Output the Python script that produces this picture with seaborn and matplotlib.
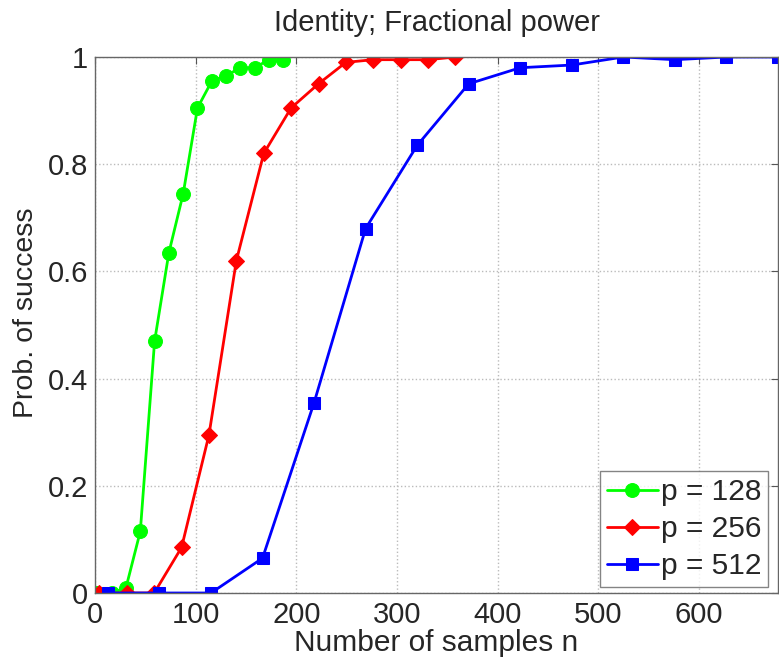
import numpy as np
import pandas as pd
import matplotlib
matplotlib.use("Agg")
import matplotlib.pyplot as plt
import seaborn as sns

# data
n_128 = [2.4, 16.6, 30.8, 45.0, 59.2, 73.4, 87.6, 101.8, 116.0, 130.2, 144.4, 158.6, 172.8, 187.0]
p_128 = [0, 0, 0.01, 0.115, 0.47, 0.635, 0.745, 0.905, 0.955, 0.965, 0.98, 0.98, 0.995, 0.995]

n_256 = [4.4, 31.6, 58.8, 86.0, 113.2, 140.4, 167.6, 194.8, 222.0, 249.2, 276.4, 303.6, 330.8, 358.0]
p_256 = [0, 0, 0, 0.085, 0.295, 0.62, 0.82, 0.905, 0.95, 0.99, 0.995, 0.995, 0.995, 1.0]

n_512 = [12.8, 64.0, 115.2, 166.4, 217.6, 268.8, 320.0, 371.2, 422.4, 473.6, 524.8, 576.0, 627.2, 678.4]
p_512 = [0, 0, 0, 0.065, 0.355, 0.68, 0.835, 0.95, 0.98, 0.985, 1.0, 0.995, 1.0, 1.0]

x_ticks = [0, 100, 200, 300, 400, 500, 600]
y_ticks = [0, 0.2, 0.4, 0.6, 0.8, 1.0]
y_tick_labels = ["0", "0.2", "0.4", "0.6", "0.8", "1"]

series = [
    ("p = 128", n_128, p_128, "#00ff00", "o", 10),
    ("p = 256", n_256, p_256, "#ff0000", "D", 8.5),
    ("p = 512", n_512, p_512, "#0000ff", "s", 8.5),
]

sns.set_style("white")
plt.rcParams['font.family'] = ['Liberation Sans', 'DejaVu Sans']

fig = plt.figure(figsize=(7.79, 6.63), dpi=100)
ax = fig.add_axes([95 / 779, 1 - 593 / 663, (778 - 95) / 779, (593 - 57) / 663])

for label, xs, ys, col, mk, ms in series:
    df = pd.DataFrame({"n": xs, "prob": ys})
    sns.lineplot(data=df, x="n", y="prob", ax=ax, color=col, marker=mk,
                 markersize=ms, markeredgecolor=col, linewidth=2, label=label)

ax.set_xlim(0, 678.4)
ax.set_ylim(0, 1)
ax.set_xticks(x_ticks)
ax.set_yticks(y_ticks)
ax.set_yticklabels(y_tick_labels)
ax.tick_params(direction="in", length=5, labelsize=21, top=True, right=True,
               color="#555555")
ax.tick_params(axis="x", pad=6)
ax.tick_params(axis="y", pad=5)
ax.grid(True, linestyle=":", color="#bbbbbb", linewidth=1)
for sp in ax.spines.values():
    sp.set_color("#666666")
    sp.set_linewidth(1)

ax.set_title("Identity; Fractional power", fontsize=21, pad=19)
ax.set_xlabel("Number of samples n", fontsize=21.5)
ax.set_ylabel("Prob. of success", fontsize=20.5)
ax.xaxis.set_label_coords(0.5, -0.067)
ax.yaxis.set_label_coords(-0.082, 0.522)

leg = ax.legend(loc="lower right", bbox_to_anchor=(0.9854, 0.0112), borderaxespad=0,
                fontsize=21.5, frameon=True, fancybox=False,
                handlelength=1.7, handletextpad=0.1, borderpad=0.23,
                labelspacing=0.3)
leg.get_frame().set_edgecolor("#666666")
leg.get_frame().set_linewidth(1)

fig.savefig("out.png", dpi=100)
